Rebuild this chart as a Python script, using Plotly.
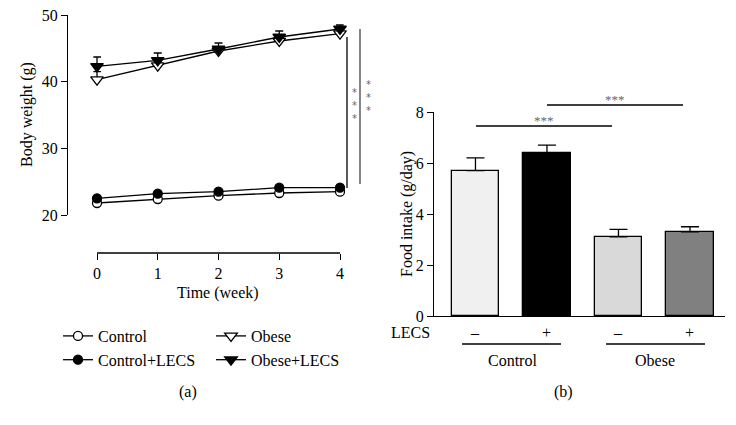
import plotly.graph_objects as go

# page body has an 8px margin: figure is sized so it fits in the 736x425 window
OFF = 8
W, H = 736 - OFF, 425 - OFF

# ---------------- data ----------------
weeks = [0, 1, 2, 3, 4]
control = [21.8, 22.4, 22.9, 23.3, 23.5]
control_lecs = [22.5, 23.2, 23.5, 24.1, 24.1]
obese = [40.3, 42.4, 44.6, 46.1, 47.2]
obese_err = [1.2, 0.6, 0.5, 0.5, 0.4]
obese_lecs = [42.3, 43.2, 44.9, 46.7, 47.9]
obese_lecs_err = [1.4, 1.1, 0.9, 0.9, 0.6]

bar_groups = ["Control −", "Control +", "Obese −", "Obese +"]
food_intake = [5.7, 6.4, 3.1, 3.3]
food_err = [0.5, 0.3, 0.3, 0.2]
bar_colors = ["#f0f0f0", "#000000", "#d9d9d9", "#808080"]
lecs_signs = ["–", "+", "–", "+"]

a_yticks = [20, 30, 40, 50]
b_yticks = [0, 2, 4, 6, 8]

FONT = "Liberation Serif"
LW = 1.3


def px(x):
    return (x - OFF) / W


def py(y):
    return 1 - (y - OFF) / H


fig = go.Figure()

common_a = dict(xaxis="x", yaxis="y", mode="lines+markers", cliponaxis=False)

fig.add_trace(go.Scatter(x=weeks, y=control, name="Control", legend="legend",
                         line=dict(color="black", width=LW),
                         marker=dict(symbol="circle", size=9, color="white",
                                     line=dict(color="black", width=LW)),
                         **common_a))
fig.add_trace(go.Scatter(x=weeks, y=control_lecs, name="Control+LECS", legend="legend",
                         line=dict(color="black", width=LW),
                         marker=dict(symbol="circle", size=9, color="black",
                                     line=dict(color="black", width=LW)),
                         **common_a))
fig.add_trace(go.Scatter(x=weeks, y=obese, name="Obese", legend="legend2",
                         line=dict(color="black", width=LW),
                         marker=dict(symbol="triangle-down", size=11, color="white",
                                     line=dict(color="black", width=LW)),
                         error_y=dict(type="data", symmetric=False, array=obese_err,
                                      arrayminus=[0] * 5, color="black",
                                      thickness=LW, width=4),
                         **common_a))
fig.add_trace(go.Scatter(x=weeks, y=obese_lecs, name="Obese+LECS", legend="legend2",
                         line=dict(color="black", width=LW),
                         marker=dict(symbol="triangle-down", size=11, color="black",
                                     line=dict(color="black", width=LW)),
                         error_y=dict(type="data", symmetric=False, array=obese_lecs_err,
                                      arrayminus=[0] * 5, color="black",
                                      thickness=LW, width=4),
                         **common_a))

fig.add_trace(go.Bar(x=list(range(len(bar_groups))), y=food_intake, xaxis="x2", yaxis="y2",
                     width=0.66, showlegend=False,
                     marker=dict(color=bar_colors, line=dict(color="black", width=LW)),
                     error_y=dict(type="data", symmetric=False, array=food_err,
                                  arrayminus=[0] * 4, color="black",
                                  thickness=LW, width=9)))

axis_common = dict(showline=True, linecolor="black", linewidth=LW, showgrid=False,
                   zeroline=False, ticks="outside", ticklen=6, tickwidth=LW,
                   automargin=False, ticklabeloverflow="allow",
                   tickcolor="black", tickfont=dict(family=FONT, size=16, color="black"))

# panel (a) x axis: 0 at px 97, 4 at px 340, range padded so end markers/caps are not clipped
XPAD = 0.06
UNIT = (340 - 97) / 4.0
xa_axis = dict(axis_common)
xa_axis["showline"] = False

fig.update_layout(
    template="none",
    width=W, height=H,
    margin=dict(l=0, r=0, t=0, b=0, pad=0, autoexpand=False),
    paper_bgcolor="white", plot_bgcolor="rgba(0,0,0,0)",
    font=dict(family=FONT, size=16, color="black"),
    xaxis=dict(domain=[px(97 - XPAD * UNIT), px(340 + XPAD * UNIT)],
               range=[-XPAD, 4 + XPAD], anchor="free", position=py(253),
               tickvals=weeks, **xa_axis),
    yaxis=dict(domain=[py(215), py(15)], range=[20, 50], anchor="free", position=px(67),
               tickvals=a_yticks, **axis_common),
    xaxis2=dict(domain=[px(434), px(725)], range=[-0.58, 3.49], anchor="y2",
                showline=True, linecolor="black", linewidth=LW, showgrid=False,
                zeroline=False, ticks="", showticklabels=False, automargin=False),
    yaxis2=dict(domain=[py(316), py(112)], range=[0, 8], anchor="x2",
                tickvals=b_yticks, **axis_common),
    legend=dict(x=px(58), y=py(319), xanchor="left", yanchor="top",
                bgcolor="rgba(0,0,0,0)", font=dict(family=FONT, size=16),
                itemwidth=30, tracegroupgap=0, borderwidth=0),
    legend2=dict(x=px(211), y=py(319), xanchor="left", yanchor="top",
                 bgcolor="rgba(0,0,0,0)", font=dict(family=FONT, size=16),
                 itemwidth=30, tracegroupgap=0, borderwidth=0),
    bargap=0,
)

ann = []


def text(x, y, s, size=16, angle=0, color="black", xref="paper", family=FONT):
    ann.append(dict(x=x, y=y, xref=xref, yref="paper", text=s, showarrow=False,
                    xanchor="center", yanchor="middle", textangle=angle,
                    font=dict(family=family, size=size, color=color)))


text(px(27), py(115), "Body weight (g)", angle=-90)
text(px(218), py(293), "Time (week)")
text(px(188), py(392), "(a)")
text(px(407), py(214), "Food intake (g/day)", angle=-90)
text(px(563), py(392), "(b)")
text(px(410), py(332), "LECS")
for i, s in enumerate(lecs_signs):
    text(i, py(332), s, xref="x2")
text(px(512), py(360), "Control")
text(px(655), py(360), "Obese")

# significance marks (stacked asterisks beside the vertical brackets)
STAR = "#666666"
text(px(354), py(106), "*<br>*<br>*", size=10, color=STAR, family="DejaVu Sans")
text(px(368), py(97), "*<br>*<br>*", size=10, color=STAR, family="DejaVu Sans")
text(px(544), py(121), "***", size=13, color=STAR)
text(px(615), py(100), "***", size=13, color=STAR)

shapes = []


def seg(x0, y0, x1, y1, color="black"):
    shapes.append(dict(type="line", xref="paper", yref="paper",
                       x0=px(x0), y0=py(y0), x1=px(x1), y1=py(y1),
                       line=dict(color=color, width=LW)))


# x axis line of panel (a), spanning exactly the tick range 0..4
shapes.append(dict(type="line", xref="x", yref="paper", x0=weeks[0], x1=weeks[-1],
                   y0=py(253), y1=py(253), line=dict(color="black", width=LW)))
seg(347, 37, 347, 188)
seg(360, 29, 360, 184, color="#444444")
seg(476, 126, 612, 126)
seg(547, 105, 683, 105)
seg(462, 344, 561, 344)
seg(606, 344, 705, 344)

fig.update_layout(annotations=ann, shapes=shapes)

fig.write_html("out.html")
